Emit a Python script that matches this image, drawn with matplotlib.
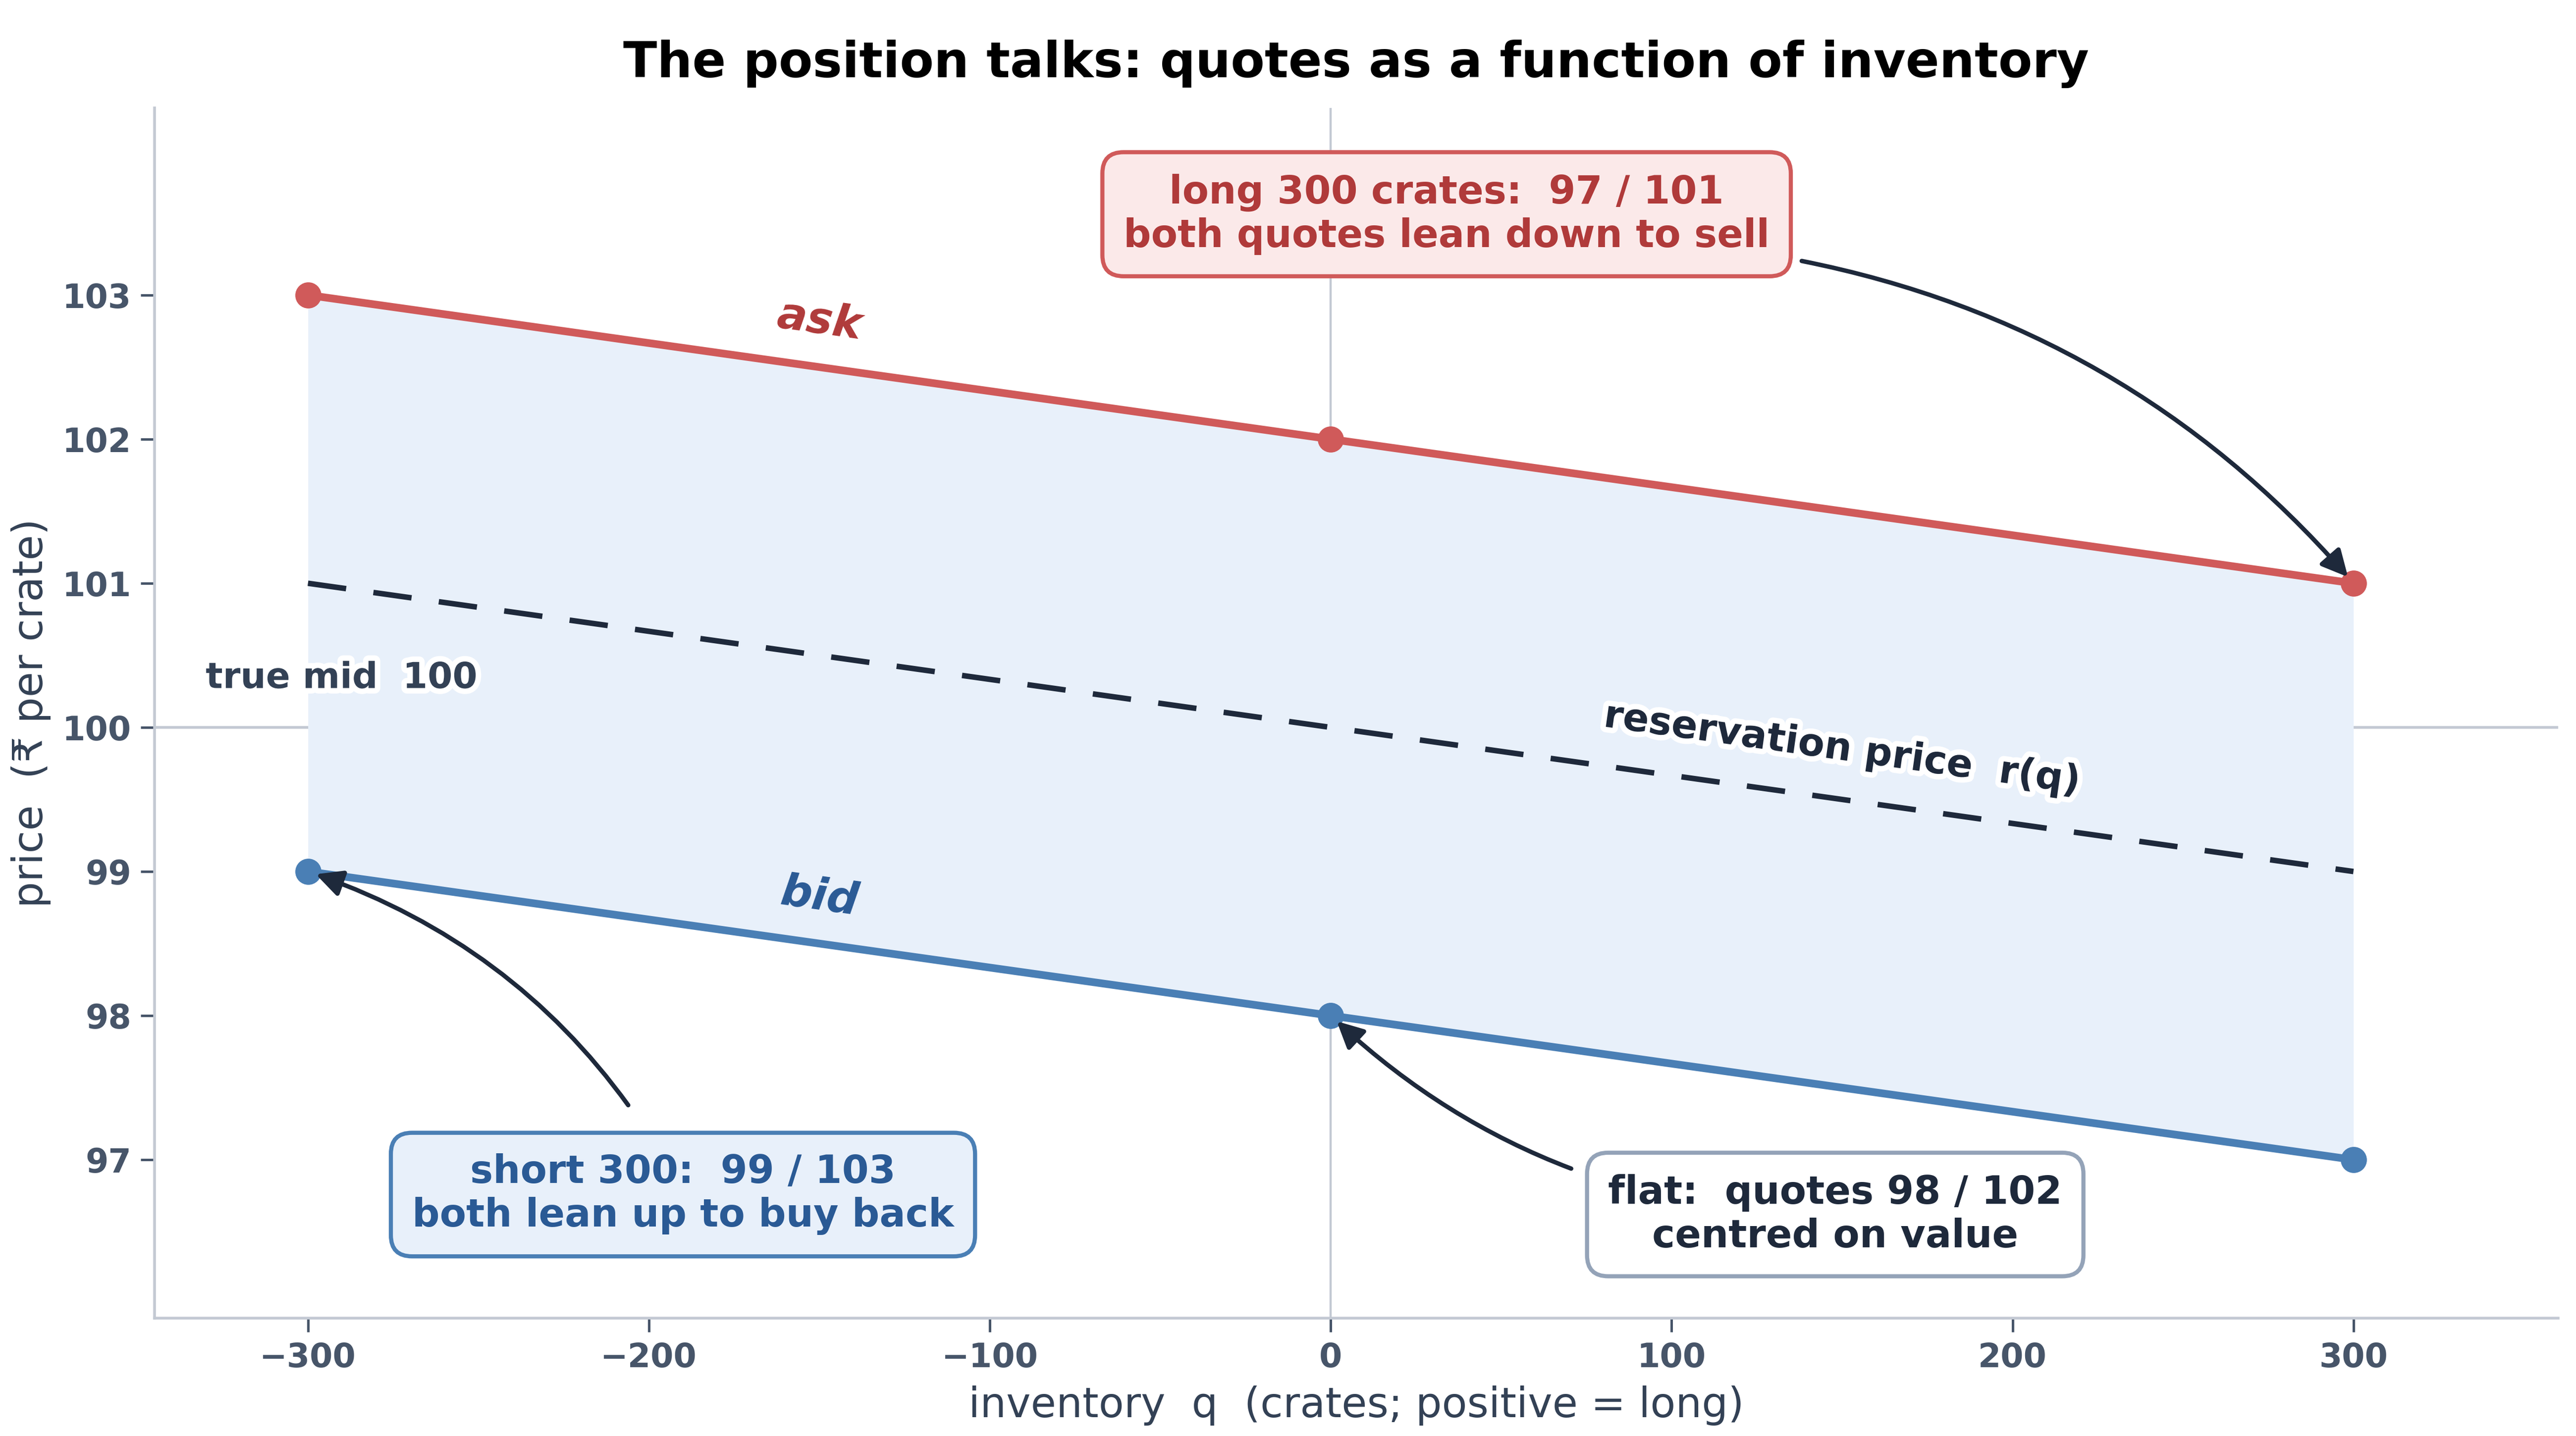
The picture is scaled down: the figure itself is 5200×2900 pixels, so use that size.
import numpy as np
import matplotlib.pyplot as plt
import matplotlib.patheffects as pe

# inventory levels and the quotes posted at each
q = [-300, 0, 300]
bid = [99, 98, 97]
ask = [103, 102, 101]
reservation = [101, 100, 99]
true_mid = 100

ASK_C = '#d05a5a'
ASK_TXT = '#b03a3a'
BID_C = '#4a7fb5'
BID_TXT = '#2a5a95'
DARK = '#1e293b'
SLATE = '#475569'
GRID = '#c3c9d3'

plt.rcParams['font.family'] = ['DejaVu Sans']

fig, ax = plt.subplots(figsize=(13, 7.25), dpi=400)
fig.subplots_adjust(left=0.060, right=0.993, top=0.925, bottom=0.082)

ax.axhline(true_mid, color=GRID, lw=1.0, zorder=0)
ax.axvline(0, color=GRID, lw=0.8, zorder=0)

ax.fill_between(q, bid, ask, color='#e8f0fa', lw=0, zorder=1)
ax.plot(q, ask, color=ASK_C, lw=2.8, marker='o', ms=8.5, zorder=3)
ax.plot(q, bid, color=BID_C, lw=2.8, marker='o', ms=8.5, zorder=3)
ax.plot(q, reservation, color=DARK, lw=2.0, dashes=(7, 5), zorder=2)

stroke = [pe.withStroke(linewidth=4, foreground='white')]

ax.text(-150, 102.82, 'ask', color=ASK_TXT, fontsize=16, fontweight='bold',
        fontstyle='italic', rotation=-8, ha='center', va='center')
ax.text(-150, 98.82, 'bid', color=BID_TXT, fontsize=16, fontweight='bold',
        fontstyle='italic', rotation=-8, ha='center', va='center')
ax.text(150, 99.85, 'reservation price  r(q)', color=DARK, fontsize=14,
        fontweight='bold', rotation=-8, ha='center', va='center',
        path_effects=stroke)
ax.text(-330, 100.34, f'true mid  {true_mid}', color='#334155', fontsize=13,
        fontweight='bold', ha='left', va='center', path_effects=stroke)

ax.annotate('long 300 crates:  97 / 101\nboth quotes lean down to sell',
            xy=(q[-1], ask[-1]), xytext=(34, 103.56), ha='center', va='center',
            fontsize=14, fontweight='bold', color=ASK_TXT,
            bbox=dict(boxstyle='round,pad=0.55', fc='#fbe9e9', ec=ASK_C, lw=1.5),
            arrowprops=dict(arrowstyle='-|>', color=DARK, lw=1.6,
                            mutation_scale=20, shrinkA=4, shrinkB=3,
                            relpos=(1.0, 0.0),
                            connectionstyle='arc3,rad=-0.18'),
            zorder=5)

ax.annotate('short 300:  99 / 103\nboth lean up to buy back',
            xy=(q[0], bid[0]), xytext=(-190, 96.76), ha='center', va='center',
            fontsize=14, fontweight='bold', color=BID_TXT,
            bbox=dict(boxstyle='round,pad=0.55', fc='#e8f0fa', ec=BID_C, lw=1.5),
            arrowprops=dict(arrowstyle='-|>', color=DARK, lw=1.6,
                            mutation_scale=20, shrinkA=12, shrinkB=3,
                            connectionstyle='arc3,rad=0.2'),
            zorder=5)

ax.annotate('flat:  quotes 98 / 102\ncentred on value',
            xy=(q[1], bid[1]), xytext=(148, 96.62), ha='center', va='center',
            fontsize=14, fontweight='bold', color=DARK,
            bbox=dict(boxstyle='round,pad=0.55', fc='white', ec='#94a3b8', lw=1.5),
            arrowprops=dict(arrowstyle='-|>', color=DARK, lw=1.6,
                            mutation_scale=20, shrinkA=6, shrinkB=3,
                            connectionstyle='arc3,rad=-0.2'),
            zorder=5)

ax.set_xlim(-345, 360)
ax.set_ylim(95.9, 104.3)
ax.set_xticks([-300, -200, -100, 0, 100, 200, 300])
ax.set_yticks([97, 98, 99, 100, 101, 102, 103])

for s in ['top', 'right']:
    ax.spines[s].set_visible(False)
for s in ['left', 'bottom']:
    ax.spines[s].set_color(GRID)
    ax.spines[s].set_linewidth(1.0)

ax.tick_params(colors=SLATE, labelsize=12, length=5, width=0.9)
for lab in ax.get_xticklabels() + ax.get_yticklabels():
    lab.set_fontweight('bold')

ax.set_xlabel('inventory  q  (crates; positive = long)', fontsize=15, color='#334155')
ax.set_ylabel('price  (₹ per crate)', fontsize=15, color='#334155')
ax.set_title('The position talks: quotes as a function of inventory',
             fontsize=18, fontweight='bold', color='black', pad=11)

fig.savefig('out.png', dpi=400)
